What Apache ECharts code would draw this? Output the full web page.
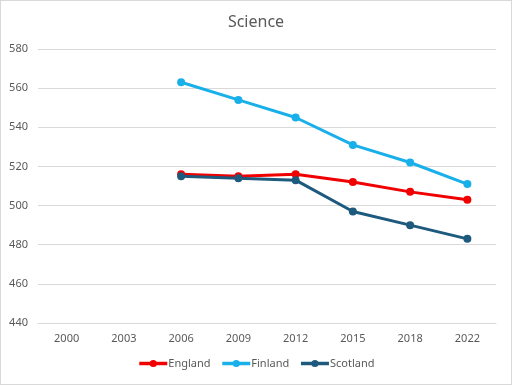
<!DOCTYPE html>
<html><head><meta charset="utf-8">
<script src="https://cdn.jsdelivr.net/npm/echarts@6/dist/echarts.min.js"></script>
<style>html,body{margin:0;padding:0;background:#fff}#c{width:512px;height:385px;box-sizing:border-box;border:1px solid #d9d9d9}</style>
</head><body><div id="c"></div>
<script>
const years = ['2000','2003','2006','2009','2012','2015','2018','2022'];
const england = [null, null, 516, 515, 516, 512, 507, 503];
const finland = [null, null, 563, 554, 545, 531, 522, 511];
const scotland = [null, null, 515, 514, 513, 497, 490, 483];
const chart = echarts.init(document.getElementById('c'));
const font = 'Noto Sans';
function s(name, data, color){
  return {name, type:'line', data, symbol:'circle', symbolSize:8,
    lineStyle:{width:3,color}, itemStyle:{color}, connectNulls:false};
}
chart.setOption({
  animation:false,
  title:{text:'Science', left:'center', top:8, textStyle:{fontFamily:font,fontSize:16,fontWeight:'normal',color:'#595959'}},
  grid:{left:37, right:15, top:48, bottom:61},
  legend:{bottom:10, left:'center', itemWidth:28, itemHeight:9, itemGap:10,
    lineStyle:{width:3.5},
    textStyle:{fontFamily:font,fontSize:11,color:'#595959',padding:[0,0,0,-4]},
    data:['England','Finland','Scotland']},
  xAxis:{type:'category', data:years, boundaryGap:true,
    axisLine:{show:true,lineStyle:{color:'#d9d9d9'}}, axisTick:{show:false},
    axisLabel:{fontFamily:font,fontSize:11,color:'#595959',margin:10}},
  yAxis:{type:'value', min:440, max:580, interval:20,
    axisLine:{show:false}, axisTick:{show:false},
    splitLine:{lineStyle:{color:'#d9d9d9'}},
    axisLabel:{fontFamily:font,fontSize:11,color:'#595959',margin:10}},
  series:[s('England',england,'#f00000'), s('Finland',finland,'#19b0ea'), s('Scotland',scotland,'#1d5a7d')]
});
</script></body></html>
